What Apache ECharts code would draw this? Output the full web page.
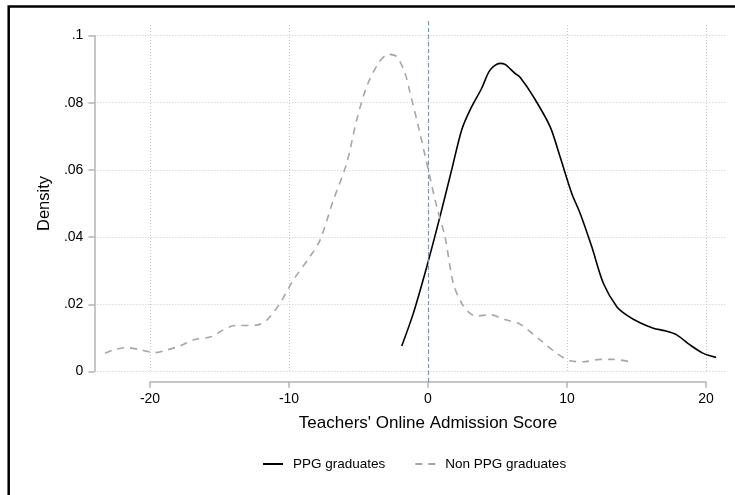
<!DOCTYPE html>
<html>
<head>
<meta charset="utf-8">
<script src="https://cdn.jsdelivr.net/npm/echarts@6/dist/echarts.min.js"></script>
<style>
  html, body { margin: 0; padding: 0; background: #fff; }
  #chartContainer { width: 735px; height: 495px; }
</style>
</head>
<body>
<div id="chartContainer"></div>
<script>
// kernel density, PPG graduates (score, density)
var ppgX = [-1.89, -1.06, -0.09, 0.86, 1.7, 2.42, 3.02, 3.86, 4.46, 5.18, 5.54, 6.26, 6.62, 7.58, 8.78, 9.5, 10.34, 10.94, 11.78, 12.62, 13.58, 14.29, 15.25, 16.21, 17.05, 17.89, 18.85, 19.81, 20.72];
var ppgY = [0.0076, 0.0173, 0.0312, 0.0461, 0.06, 0.0719, 0.0778, 0.0843, 0.0897, 0.0917, 0.0914, 0.0887, 0.0876, 0.0818, 0.0729, 0.0639, 0.053, 0.0471, 0.0371, 0.0262, 0.0193, 0.0168, 0.0145, 0.0129, 0.0121, 0.0109, 0.0079, 0.0054, 0.0042];

// kernel density, non PPG graduates
var nonPpgX = [-23.24, -22.64, -21.68, -20.84, -19.64, -18.8, -17.84, -16.88, -15.56, -14.73, -14.01, -12.32, -11.6, -10.65, -9.69, -8.49, -7.77, -6.81, -5.85, -5.13, -4.41, -3.57, -2.86, -2.25, -1.65, -1.29, -0.58, 0.02, 0.63, 1.22, 1.82, 2.42, 3.02, 3.5, 4.46, 5.66, 6.62, 8.06, 9.26, 10.22, 11.17, 12.37, 13.33, 14.77];
var nonPpgY = [0.0054, 0.0064, 0.0071, 0.0066, 0.0056, 0.0064, 0.0076, 0.0094, 0.0104, 0.0124, 0.0136, 0.0138, 0.0153, 0.0203, 0.0272, 0.0342, 0.0391, 0.051, 0.062, 0.0749, 0.0848, 0.0917, 0.0944, 0.0937, 0.0887, 0.083, 0.0709, 0.06, 0.049, 0.0401, 0.0262, 0.0203, 0.0173, 0.0165, 0.0169, 0.0153, 0.0141, 0.0094, 0.0054, 0.0032, 0.0029, 0.0036, 0.0036, 0.0027];

var xTicks = [-20, 20, 10]; // min, max, step
var yTicks = [0, 0.1, 0.02];
var refLineX = 0;

var FONT = "Liberation Sans, Arial, sans-serif";
var GRID_DOT = { color: "#c8c8c8", type: [1, 2], width: 1 };
var AXIS_GRAY = "#b4b4b4";

function pairs(xs, ys) {
  return xs.map((x, i) => [x, ys[i]]);
}

function fmtY(v) {
  if (v === 0) return "0";
  return String(+v.toFixed(2)).replace(/^0/, "");
}

var CHART = echarts.init(document.getElementById("chartContainer"), null, { renderer: "canvas" });

var option = {
  animation: false,
  backgroundColor: "#fff",
  textStyle: { fontFamily: FONT },
  grid: [
    // data + horizontal grid + y axis
    { left: 94.4, right: 8.1, top: 35.5, bottom: 123.5 },
    // vertical grid + x axis
    { left: 150, right: 29, top: 25, bottom: 122 },
    // reference line
    { left: 150, right: 29, top: 21, bottom: 113 },
  ],
  xAxis: [
    { gridIndex: 0, type: "value", min: -24, max: 21.5, show: false },
    {
      gridIndex: 1,
      type: "value",
      min: xTicks[0],
      max: xTicks[1],
      interval: xTicks[2],
      position: "bottom",
      offset: 8.7,
      axisLine: { show: true, onZero: false, lineStyle: { color: AXIS_GRAY, width: 1.5 } },
      axisTick: { show: true, length: 6, lineStyle: { color: AXIS_GRAY, width: 1.5 } },
      axisLabel: { color: "#000", fontSize: 14, margin: 10, fontFamily: FONT },
      splitLine: { show: true, lineStyle: GRID_DOT },
      name: "Teachers' Online Admission Score",
      nameLocation: "middle",
      nameGap: 33,
      nameTextStyle: { color: "#000", fontSize: 17, fontFamily: FONT },
    },
    { gridIndex: 2, type: "value", min: xTicks[0], max: xTicks[1], show: false },
  ],
  yAxis: [
    {
      gridIndex: 0,
      type: "value",
      min: yTicks[0],
      max: yTicks[1],
      interval: yTicks[2],
      axisLine: { show: true, onZero: false, lineStyle: { color: AXIS_GRAY, width: 1.5 } },
      axisTick: { show: true, length: 6, lineStyle: { color: AXIS_GRAY, width: 1.5 } },
      axisLabel: { color: "#000", fontSize: 14, margin: 11, fontFamily: FONT, formatter: fmtY },
      splitLine: { show: true, lineStyle: GRID_DOT },
      name: "Density",
      nameLocation: "middle",
      nameGap: 41,
      nameRotate: 90,
      nameTextStyle: { color: "#000", fontSize: 16.5, fontFamily: FONT },
    },
    { gridIndex: 1, type: "value", min: 0, max: 1, show: false },
    { gridIndex: 2, type: "value", min: 0, max: 1, show: false },
  ],
  legend: {
    left: 257,
    top: 452,
    itemWidth: 20,
    itemHeight: 14,
    itemGap: 29,
    itemStyle: { opacity: 0 },
    textStyle: { color: "#000", fontSize: 13.5, fontFamily: FONT, padding: [0, 0, 0, 5] },
    data: ["PPG graduates", "Non PPG graduates"],
  },
  graphic: [
    {
      type: "polyline",
      silent: true,
      shape: { points: [[8.7, 495], [8.7, 6.5], [735, 6.5]] },
      style: { stroke: "#000", lineWidth: 2.5, fill: null },
    },
  ],
  series: [
    {
      name: "ref",
      type: "line",
      xAxisIndex: 2,
      yAxisIndex: 2,
      data: [],
      silent: true,
      markLine: {
        silent: true,
        symbol: "none",
        label: { show: false },
        lineStyle: { color: "#7d97b3", type: [4, 3], width: 1.2 },
        data: [{ xAxis: refLineX }],
      },
    },
    {
      name: "PPG graduates",
      type: "line",
      xAxisIndex: 0,
      yAxisIndex: 0,
      data: pairs(ppgX, ppgY),
      smooth: 0.3,
      symbol: "none",
      lineStyle: { color: "#000", width: 1.6 },
      itemStyle: { color: "#000" },
    },
    {
      name: "Non PPG graduates",
      type: "line",
      xAxisIndex: 0,
      yAxisIndex: 0,
      data: pairs(nonPpgX, nonPpgY),
      smooth: 0.3,
      symbol: "none",
      lineStyle: { color: "#a6a6a6", width: 1.6, type: [7, 6] },
      itemStyle: { color: "#a6a6a6" },
    },
  ],
};

CHART.setOption(option);
</script>
</body>
</html>
